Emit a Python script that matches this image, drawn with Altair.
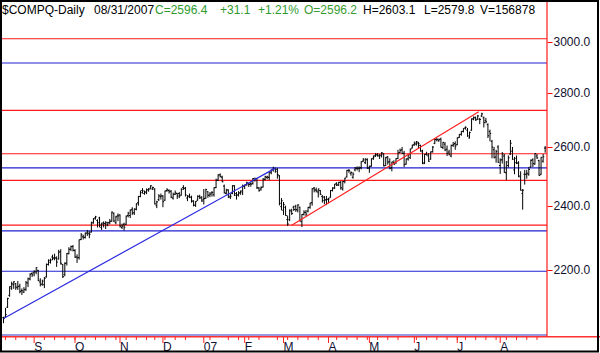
import altair as alt
import pandas as pd
import numpy as np

FONT = "Liberation Sans, Arial, sans-serif"

# ---- trading calendar -------------------------------------------------------
start_date = "2006-08-11"
end_date = "2007-08-31"
holidays = ["2006-09-04", "2006-11-23", "2006-12-25", "2007-01-01", "2007-01-02",
            "2007-01-15", "2007-02-19", "2007-04-06", "2007-05-28", "2007-07-04"]

# ---- daily OHLC --------------------------------------------------------------
opens = [
    2060, 2062, 2090, 2124, 2145, 2155, 2158, 2146, 2151, 2138, 2133, 2142, 2160, 2172, 2188,
    2190, 2193, 2198, 2163, 2157, 2155, 2178, 2215, 2222, 2238, 2233, 2234, 2232, 2254, 2215, 2185, 2220, 2248, 2262, 2270,
    2258, 2238, 2236, 2292, 2300, 2298, 2312, 2310, 2315, 2344, 2360, 2352, 2360, 2330, 2345, 2342, 2338, 2345, 2350, 2375, 2345, 2367,
    2370, 2330, 2340, 2340, 2368, 2368, 2388, 2377, 2388, 2410, 2430, 2450, 2440, 2443, 2452, 2458, 2455, 2455, 2400, 2420, 2430,
    2432, 2418, 2450, 2450, 2448, 2425, 2438, 2440, 2440, 2435, 2460, 2458, 2425, 2432, 2428, 2414, 2402, 2418, 2430, 2428,
    2420, 2425, 2446, 2435, 2442, 2436, 2460, 2485, 2503, 2495, 2465, 2440, 2452, 2428, 2440, 2466, 2440, 2435, 2443, 2445,
    2465, 2470, 2472, 2473, 2474, 2485, 2490, 2458, 2455, 2462, 2488, 2494, 2494, 2510, 2522, 2524, 2522, 2500, 2397,
    2385, 2395, 2355, 2355, 2382, 2395, 2398, 2385, 2395, 2348, 2372, 2378, 2382, 2395, 2410, 2458, 2452, 2445, 2450, 2430, 2428, 2420,
    2420, 2428, 2450, 2458, 2474, 2468, 2478, 2455, 2480, 2496, 2518, 2508, 2495, 2520, 2525, 2526, 2528, 2550, 2545, 2555,
    2527, 2533, 2560, 2570, 2572, 2568, 2569, 2575, 2535, 2565, 2548, 2528, 2546, 2545, 2560, 2580, 2590, 2578, 2540, 2558, 2562, 2596,
    2608, 2610, 2614, 2605, 2583, 2545, 2575, 2568, 2557, 2583, 2613, 2625, 2622, 2628, 2598, 2610, 2592, 2582, 2568, 2606, 2612,
    2608, 2634, 2645, 2655, 2668, 2660, 2632, 2660, 2700, 2705, 2700, 2700, 2712, 2705, 2695, 2680, 2655, 2620, 2590, 2565, 2600,
    2535, 2555, 2568, 2510, 2535, 2575, 2585, 2520, 2560, 2545, 2496, 2440, 2505, 2505, 2505, 2530, 2555, 2540, 2568, 2552, 2505, 2550, 2596.2,
]
highs = [
    2063, 2088, 2117, 2150, 2164, 2165, 2160, 2166, 2158, 2144, 2148, 2166, 2176, 2189, 2192,
    2198, 2207, 2199, 2174, 2170, 2178, 2218, 2231, 2233, 2245, 2248, 2240, 2260, 2262, 2217, 2222, 2250, 2268, 2273, 2275,
    2262, 2246, 2292, 2312, 2307, 2314, 2322, 2318, 2348, 2360, 2367, 2356, 2364, 2345, 2349, 2350, 2348, 2357, 2381, 2378, 2367, 2375,
    2372, 2342, 2345, 2368, 2380, 2388, 2395, 2391, 2408, 2432, 2450, 2458, 2450, 2457, 2458, 2468, 2463, 2458, 2416, 2438, 2440,
    2435, 2450, 2458, 2454, 2452, 2443, 2450, 2442, 2445, 2458, 2468, 2462, 2435, 2440, 2433, 2418, 2415, 2434, 2436, 2431,
    2455, 2456, 2448, 2445, 2448, 2461, 2490, 2505, 2508, 2500, 2470, 2456, 2454, 2440, 2468, 2468, 2445, 2448, 2450, 2470,
    2470, 2480, 2476, 2478, 2492, 2494, 2493, 2462, 2464, 2492, 2500, 2500, 2515, 2522, 2531, 2528, 2526, 2502, 2425,
    2412, 2400, 2368, 2388, 2390, 2400, 2403, 2405, 2397, 2373, 2385, 2386, 2396, 2410, 2458, 2462, 2460, 2456, 2452, 2435, 2432, 2432,
    2426, 2452, 2461, 2472, 2478, 2479, 2482, 2482, 2493, 2520, 2523, 2515, 2512, 2530, 2532, 2532, 2550, 2561, 2560, 2560,
    2535, 2560, 2570, 2578, 2578, 2574, 2582, 2578, 2565, 2568, 2560, 2548, 2553, 2560, 2590, 2594, 2600, 2586, 2560, 2575, 2594, 2609,
    2619, 2621, 2618, 2608, 2590, 2575, 2583, 2578, 2584, 2603, 2630, 2632, 2630, 2633, 2618, 2617, 2605, 2590, 2608, 2618, 2620,
    2634, 2646, 2657, 2667, 2674, 2668, 2655, 2703, 2710, 2710, 2716, 2705, 2724, 2710, 2705, 2685, 2662, 2625, 2600, 2590, 2606,
    2560, 2582, 2575, 2550, 2570, 2625, 2600, 2565, 2570, 2550, 2515, 2455, 2520, 2520, 2530, 2556, 2560, 2578, 2575, 2555, 2565, 2575, 2603.1,
]
lows = [
    2045, 2060, 2088, 2120, 2140, 2143, 2140, 2140, 2130, 2125, 2131, 2137, 2148, 2168, 2178,
    2180, 2186, 2165, 2150, 2152, 2145, 2176, 2212, 2218, 2228, 2228, 2208, 2230, 2215, 2175, 2180, 2212, 2246, 2256, 2255,
    2235, 2220, 2230, 2290, 2292, 2295, 2303, 2296, 2314, 2342, 2355, 2330, 2330, 2322, 2330, 2325, 2334, 2340, 2348, 2347, 2340, 2350,
    2330, 2325, 2320, 2338, 2362, 2360, 2370, 2370, 2385, 2400, 2428, 2440, 2436, 2438, 2446, 2454, 2452, 2404, 2392, 2415, 2420,
    2395, 2416, 2446, 2440, 2425, 2420, 2435, 2422, 2425, 2433, 2452, 2430, 2415, 2425, 2410, 2398, 2396, 2416, 2422, 2413,
    2404, 2422, 2426, 2428, 2430, 2430, 2458, 2482, 2494, 2478, 2440, 2437, 2425, 2422, 2438, 2432, 2420, 2430, 2436, 2435,
    2455, 2466, 2462, 2463, 2470, 2480, 2455, 2446, 2450, 2460, 2484, 2488, 2485, 2505, 2514, 2510, 2490, 2401, 2385,
    2370, 2367, 2335, 2350, 2370, 2383, 2380, 2378, 2349, 2331, 2368, 2366, 2378, 2390, 2400, 2444, 2444, 2427, 2435, 2410, 2405, 2402,
    2408, 2426, 2447, 2455, 2465, 2465, 2453, 2450, 2474, 2494, 2510, 2500, 2490, 2515, 2518, 2512, 2522, 2548, 2540, 2523,
    2510, 2531, 2555, 2565, 2566, 2558, 2563, 2532, 2533, 2538, 2522, 2515, 2538, 2540, 2558, 2578, 2575, 2530, 2538, 2552, 2558, 2595,
    2604, 2605, 2595, 2583, 2540, 2540, 2570, 2548, 2555, 2580, 2610, 2620, 2618, 2598, 2592, 2585, 2568, 2570, 2564, 2600, 2590,
    2606, 2632, 2640, 2652, 2662, 2636, 2630, 2658, 2696, 2694, 2698, 2682, 2708, 2670, 2685, 2632, 2620, 2560, 2560, 2545, 2544,
    2506, 2542, 2510, 2485, 2528, 2572, 2555, 2505, 2540, 2495, 2450, 2387, 2470, 2490, 2500, 2528, 2530, 2538, 2558, 2500, 2503, 2545, 2579.8,
]
closes = [
    2057.7, 2069.0, 2115.0, 2149.5, 2157.6, 2163.9, 2147.8, 2150.0, 2134.7, 2137.1, 2140.3, 2160.7, 2172.3, 2185.7, 2183.8,
    2193.2, 2205.7, 2167.8, 2155.3, 2165.8, 2173.3, 2215.8, 2227.7, 2228.7, 2235.8, 2235.8, 2222.4, 2252.9, 2218.9, 2178.6, 2218.0, 2249.1, 2261.3, 2270.0, 2258.4,
    2237.8, 2235.6, 2290.9, 2306.3, 2299.9, 2311.8, 2315.4, 2308.3, 2346.1, 2357.3, 2363.8, 2344.9, 2337.2, 2340.9, 2342.3, 2344.8, 2344.9, 2349.6, 2379.1, 2350.6, 2363.8, 2366.7,
    2334.4, 2334.2, 2330.8, 2365.9, 2375.9, 2384.9, 2376.0, 2389.7, 2406.4, 2430.7, 2442.8, 2449.0, 2445.9, 2452.7, 2454.8, 2465.9, 2460.3, 2405.9, 2412.6, 2432.2, 2431.8,
    2413.2, 2448.4, 2452.4, 2445.9, 2427.7, 2437.4, 2442.9, 2431.6, 2432.0, 2453.9, 2457.2, 2435.6, 2429.6, 2427.6, 2415.9, 2401.2, 2413.5, 2431.2, 2425.6, 2415.3,
    2423.2, 2453.4, 2434.2, 2438.2, 2443.8, 2459.3, 2484.9, 2502.8, 2497.8, 2479.4, 2443.2, 2451.3, 2431.1, 2431.4, 2466.3, 2434.2, 2435.5, 2441.1, 2448.6, 2463.9,
    2468.4, 2475.9, 2470.6, 2471.5, 2490.5, 2488.7, 2459.8, 2450.4, 2459.9, 2488.4, 2497.1, 2496.3, 2513.0, 2518.4, 2524.9, 2515.1, 2504.5, 2407.9, 2416.2,
    2404.2, 2368.0, 2340.7, 2385.1, 2374.6, 2387.6, 2387.6, 2402.3, 2350.6, 2371.7, 2378.7, 2372.7, 2394.4, 2408.2, 2455.9, 2451.8, 2448.9, 2455.6, 2437.4, 2417.1, 2417.9, 2421.6,
    2422.3, 2450.3, 2458.7, 2471.3, 2469.1, 2477.6, 2459.3, 2480.3, 2491.9, 2518.3, 2516.9, 2510.5, 2505.4, 2526.4, 2523.7, 2524.5, 2547.9, 2554.5, 2557.2, 2525.1,
    2531.5, 2557.8, 2565.5, 2572.2, 2570.9, 2571.8, 2578.9, 2533.7, 2562.2, 2547.4, 2525.3, 2547.4, 2539.4, 2558.5, 2578.8, 2588.0, 2577.1, 2537.9, 2557.2, 2572.2, 2592.6, 2604.5,
    2613.9, 2618.3, 2611.2, 2587.2, 2541.4, 2573.5, 2572.2, 2549.7, 2582.5, 2599.4, 2626.7, 2626.8, 2626.2, 2599.0, 2616.0, 2589.0, 2577.1, 2574.2, 2605.4, 2608.4, 2603.2,
    2632.3, 2645.0, 2656.0, 2666.5, 2670.5, 2639.2, 2651.2, 2701.7, 2707.0, 2697.3, 2712.3, 2699.0, 2720.0, 2687.6, 2690.6, 2639.9, 2648.2, 2599.3, 2562.2, 2583.3, 2546.3,
    2553.9, 2576.0, 2511.3, 2547.3, 2561.6, 2613.0, 2556.5, 2544.9, 2542.2, 2499.1, 2451.1, 2451.1, 2505.0, 2508.6, 2521.3, 2552.8, 2541.7, 2576.7, 2561.3, 2500.6, 2563.2, 2565.3, 2596.4,
]

# ---- horizontal levels and trendlines ---------------------------------------
red_levels = [3013, 2733, 2576, 2484, 2337]
blue_levels = [2915, 2527, 2319, 2195]
blue_trend_idx = [0, 133]
blue_trend_val = [2058, 2526]
red_trend_idx = [141, 232.5]
red_trend_val = [2337, 2728]

month_labels = ["S", "O", "N", "D", "07", "F", "M", "A", "M", "J", "J", "A"]
y_ticks = [2200, 2400, 2600, 2800, 3000]

header_texts = ["$COMPQ-Daily", "08/31/2007", "C=2596.4", "+31.1", "+1.21%",
                "O=2596.2", "H=2603.1", "L=2579.8", "V=156878"]
header_colors = ["#000000", "#000000", "#2e9a2e", "#2e9a2e", "#2e9a2e",
                 "#3a9a30", "#000000", "#000000", "#000000"]
header_x = [2, 94, 155, 220, 258, 304, 363, 424, 480]

# ---------------------------------------------------------------------------
dates = pd.bdate_range(start_date, end_date)
dates = dates[~dates.isin(pd.to_datetime(holidays))]
n = len(dates)
assert n == len(opens) == len(highs) == len(lows) == len(closes)

df = pd.DataFrame({"i": np.arange(n), "date": dates, "open": opens,
                   "high": highs, "low": lows, "close": closes})

months = df.assign(m=df["date"].dt.to_period("M")).groupby("m")["i"].min().iloc[1:]
month_df = pd.DataFrame({"i": months.values, "lab": month_labels})
week_df = df[df["date"].dt.weekday == 0][["i"]]

levels_df = pd.DataFrame({"level": red_levels + blue_levels,
                          "c": ["#ff1a1a"] * len(red_levels) + ["#2020d0"] * len(blue_levels)})
trend_df = pd.DataFrame({"i": blue_trend_idx + red_trend_idx,
                         "v": blue_trend_val + red_trend_val,
                         "g": ["blue", "blue", "red", "red"]})

W, H = 545, 334
xs = alt.Scale(domain=[-0.73, 265.9], nice=False, zero=False)
ys = alt.Scale(type="log", domain=[2009.6, 3167.6], nice=False)
yax = alt.Axis(orient="right", values=y_ticks, format=".1f", domain=False, grid=False,
               ticks=True, tickColor="#ff0000", tickSize=5, labelPadding=1,
               labelFont=FONT, labelFontSize=12, labelColor="#101030", title=None,
               labelOverlap=False, labelFlush=False)
X = lambda f: alt.X(f, scale=xs, axis=None)
Y = lambda f: alt.Y(f, scale=ys, axis=yax)
one = pd.DataFrame({"a": [0]})

levels = alt.Chart(levels_df).mark_rule(strokeWidth=1.2).encode(
    y=Y("level:Q"), color=alt.Color("c:N", scale=None))

base = alt.Chart(df)
hl = base.mark_rule(color="#000000", strokeWidth=1).encode(x=X("i:Q"), y=Y("low:Q"), y2="high:Q")
op = base.transform_calculate(xl="datum.i - 0.6").mark_rule(color="#000000", strokeWidth=1).encode(
    x=X("xl:Q"), x2="i:Q", y=Y("open:Q"))
cl = base.transform_calculate(xr="datum.i + 0.6").mark_rule(color="#000000", strokeWidth=1).encode(
    x=X("i:Q"), x2="xr:Q", y=Y("close:Q"))

trend = alt.Chart(trend_df).mark_line(strokeWidth=1.2).encode(
    x=X("i:Q"), y=Y("v:Q"), detail="g:N",
    color=alt.Color("g:N", scale=alt.Scale(domain=["blue", "red"], range=["#2a2ae0", "#ff2020"]), legend=None))

bottom_blue = alt.Chart(one).mark_rule(color="#3030c0", strokeWidth=1).encode(
    x=alt.value(0), x2=alt.value(W), y=alt.value(H - 1))
bottom_red = alt.Chart(one).mark_rule(color="#ff3030", strokeWidth=1.5).encode(
    x=alt.value(-2), x2=alt.value(598), y=alt.value(H + 0.7))
right_red = alt.Chart(one).mark_rule(color="#ff1a1a", strokeWidth=1.2).encode(
    x=alt.value(W), y=alt.value(-2), y2=alt.value(H + 0.7))

wk = alt.Chart(week_df).mark_rule(color="#ff2020", strokeWidth=1).encode(
    x=X("i:Q"), y=alt.value(H + 1), y2=alt.value(H + 4))
mt = alt.Chart(month_df).mark_rule(color="#ff2020", strokeWidth=1).encode(
    x=X("i:Q"), y=alt.value(H + 1), y2=alt.value(H + 7))
ml = alt.Chart(month_df).mark_text(align="left", baseline="alphabetic", dx=0, fontSize=12,
                                   font=FONT, color="#101030").encode(
    x=X("i:Q"), y=alt.value(H + 15), text="lab:N")

headers = [
    alt.Chart(one).mark_text(align="left", baseline="alphabetic", fontSize=12, font=FONT,
                             color=c).encode(x=alt.value(px - 2), y=alt.value(12), text=alt.value(t))
    for t, c, px in zip(header_texts, header_colors, header_x)
]

frame = alt.Chart(one).mark_rect(fillOpacity=0, stroke="#000000", strokeWidth=2).encode(
    x=alt.value(-1), x2=alt.value(596), y=alt.value(-1), y2=alt.value(349.5))

chart = alt.layer(
    levels, hl, op, cl, trend, bottom_blue, bottom_red, right_red, wk, mt, ml, *headers, frame
).properties(
    width=W, height=H,
    padding={"left": 2, "top": 2, "right": 53, "bottom": 17},
    autosize=alt.AutoSizeParams(type="none"),
    background="white",
).configure_view(stroke=None)

chart.save("out.html", embed_options={"renderer": "svg", "actions": False})
